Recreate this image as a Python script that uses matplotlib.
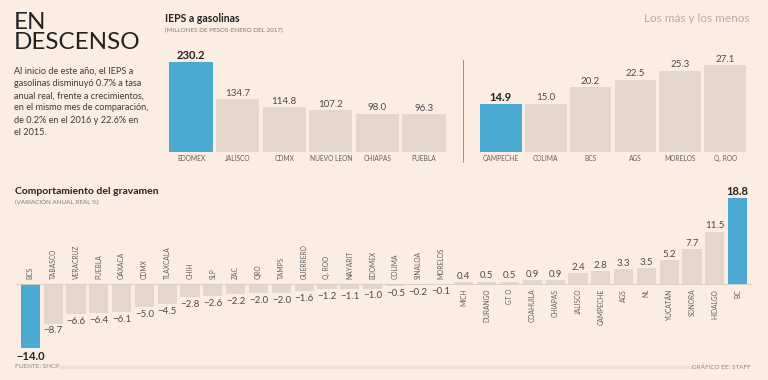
import matplotlib.pyplot as plt
from matplotlib.lines import Line2D

plt.rcParams['font.family'] = ['Lato', 'DejaVu Sans']

# data
top_states = ['EDOMEX', 'JALISCO', 'CDMX', 'NUEVO LEON', 'CHIAPAS', 'PUEBLA']
top_values = [230.2, 134.7, 114.8, 107.2, 98.0, 96.3]

low_states = ['CAMPECHE', 'COLIMA', 'BCS', 'AGS', 'MORELOS', 'Q. ROO']
low_values = [14.9, 15.0, 20.2, 22.5, 25.3, 27.1]

var_states = ['BCS', 'TABASCO', 'VERACRUZ', 'PUEBLA', 'OAXACA', 'CDMX', 'TLAXCALA',
              'CHIH', 'SLP', 'ZAC', 'QRO', 'TAMPS', 'GUERRERO', 'Q. ROO', 'NAYARIT',
              'EDOMEX', 'COLIMA', 'SINALOA', 'MORELOS', 'MICH', 'DURANGO', 'GT O',
              'COAHUILA', 'CHIAPAS', 'JALISCO', 'CAMPECHE', 'AGS', 'NL', 'YUCATÁN',
              'SONORA', 'HIDALGO', 'BC']
var_values = [-14.0, -8.7, -6.6, -6.4, -6.1, -5.0, -4.5, -2.8, -2.6, -2.2, -2.0, -2.0,
              -1.6, -1.2, -1.1, -1.0, -0.5, -0.2, -0.1, 0.4, 0.5, 0.5, 0.9, 0.9, 2.4,
              2.8, 3.3, 3.5, 5.2, 7.7, 11.5, 18.8]

BG = '#FCEDE3'
BLUE = '#4AAAD2'
BEIGE = '#E4D6CB'
DARK = '#222222'
GREY = '#606060'
W, H = 768, 380

fig = plt.figure(figsize=(7.68, 3.80), dpi=100, facecolor=BG)


def box(left, top, right, bottom):
    return [left / W, 1 - bottom / H, (right - left) / W, (bottom - top) / H]


def fy(y):
    return 1 - y / H


def fmt(v):
    return f'{v:.1f}'.replace('-', '\u2212')


# headline and intro text
fig.text(14 / W, fy(12), 'EN\nDESCENSO', fontsize=17.5, color=DARK, va='top',
         linespacing=0.95)
intro = ('Al inicio de este año, el IEPS a\n'
         'gasolinas disminuyó 0.7% a tasa\n'
         'anual real, frente a crecimientos,\n'
         'en el mismo mes de comparación,\n'
         'de 0.2% en el 2016 y 22.6% en\n'
         'el 2015.')
fig.text(14 / W, fy(67), intro, fontsize=6.6, color='#3A3A3A', va='top',
         linespacing=1.45)

fig.text(165 / W, fy(18), 'IEPS a gasolinas', fontsize=7.6, weight='bold',
         color=DARK, va='center')
fig.text(165 / W, fy(30), '(MILLONES DE PESOS-ENERO DEL 2017)', fontsize=4.5,
         color='#807876', va='center')
fig.text(750 / W, fy(19), 'Los más y los menos', fontsize=8.5, color='#B5ABA6',
         ha='right', va='center')


def top_chart(rect, names, values, ymax):
    ax = fig.add_axes(rect)
    ax.set_facecolor('none')
    ax.axis('off')
    x = range(len(values))
    colors = [BLUE] + [BEIGE] * (len(values) - 1)
    ax.bar(x, values, width=0.93, color=colors)
    ax.set_xlim(-0.6, len(values) - 0.4)
    ax.set_ylim(0, ymax)
    ax.axhline(0, color='#8A8280', lw=0.6)
    for i, (n, v) in enumerate(zip(names, values)):
        ax.annotate(n, (i, 0), xytext=(0, -2), textcoords='offset points',
                    ha='center', va='top', fontsize=4.8, color=GREY)
        ax.annotate(fmt(v), (i, v), xytext=(0, 1), textcoords='offset points',
                    ha='center', va='bottom',
                    fontsize=8 if i == 0 else 7,
                    weight='bold' if i == 0 else 'normal',
                    color=DARK if i == 0 else '#4A4A4A')
    return ax


top_chart(box(163, 52, 452, 152), top_states, top_values, 100 / 0.39)
top_chart(box(474, 52, 752, 152), low_states, low_values, 100 / 3.21)

# separator
fig.add_artist(Line2D([463 / W, 463 / W], [fy(60), fy(162)],
                      color='#8A8280', lw=0.6))

# bottom chart
fig.text(15 / W, fy(191), 'Comportamiento del gravamen', fontsize=7.5,
         weight='bold', color=DARK, va='center')
fig.text(15 / W, fy(202), '(VARIACIÓN ANUAL REAL %)', fontsize=4.5,
         color='#807876', va='center')

ax = fig.add_axes(box(16, 195, 752, 350))
ax.set_facecolor('none')
ax.axis('off')
n = len(var_values)
vmin, vmax = min(var_values), max(var_values)
colors = [BLUE if v in (vmin, vmax) else BEIGE for v in var_values]
ax.bar(range(n), var_values, width=0.84, color=colors)
ax.set_xlim(-0.63, n - 0.37)
ax.set_ylim(-14.5, 19.56)
ax.axhline(0, color='#D8CCC4', lw=0.6)
for i, (s, v) in enumerate(zip(var_states, var_values)):
    big = v in (vmin, vmax)
    style = dict(ha='center', fontsize=8 if big else 7,
                 weight='bold' if big else 'normal',
                 color=DARK if big else '#4A4A4A')
    if v < 0:
        ax.annotate(s, (i, 0), xytext=(0, 3.5), textcoords='offset points',
                    rotation=90, ha='center', va='bottom', fontsize=4.8,
                    color=GREY)
        ax.annotate(fmt(v), (i, v), xytext=(0, -2), textcoords='offset points',
                    va='top', **style)
    else:
        ax.annotate(s, (i, 0), xytext=(0, -3.5), textcoords='offset points',
                    rotation=90, ha='center', va='top', fontsize=4.8,
                    color=GREY)
        ax.annotate(fmt(v), (i, v), xytext=(0, 1), textcoords='offset points',
                    va='bottom', **style)

# footer
fig.add_artist(Line2D([60 / W, 692 / W], [fy(367), fy(367)],
                      color='#EFDFD5', lw=2.5))
fig.text(15 / W, fy(367), 'FUENTE: SHCP', fontsize=4.6, color='#8A8280',
         va='center')
fig.text(751 / W, fy(367), 'GRÁFICO EE: STAFF', fontsize=4.6, color='#8A8280',
         va='center', ha='right')

fig.savefig('out.png', dpi=100, facecolor=BG)
